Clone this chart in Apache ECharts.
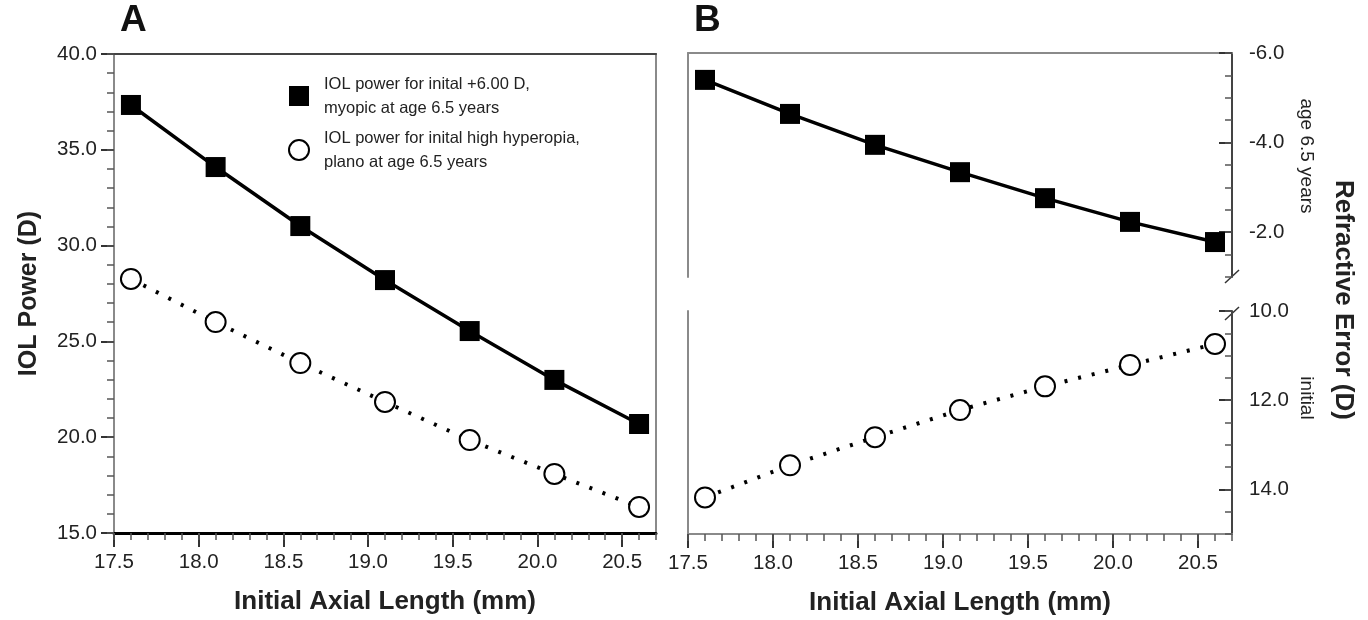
<!DOCTYPE html>
<html>
<head>
<meta charset="utf-8">
<script src="https://cdn.jsdelivr.net/npm/echarts@6/dist/echarts.min.js"></script>
<style>
html,body{margin:0;padding:0;background:#fff;}
#chart{width:1368px;height:620px;}
</style>
</head>
<body>
<div id="chart"></div>
<script>
// ---- data ----
const axialLength = [17.6, 18.1, 18.6, 19.1, 19.6, 20.1, 20.6];
const iolMyopic = [37.34, 34.10, 31.02, 28.20, 25.54, 22.99, 20.69];
const iolHyperopic = [28.26, 26.01, 23.87, 21.84, 19.85, 18.08, 16.36];
const refractionAge65 = [-5.40, -4.64, -3.95, -3.34, -2.76, -2.23, -1.78];
const refractionInitial = [14.18, 13.46, 12.83, 12.22, 11.69, 11.21, 10.74];
const xTickLabels = [17.5, 18.0, 18.5, 19.0, 19.5, 20.0, 20.5];
const yTicksA = [15, 20, 25, 30, 35, 40];
const yTicksBTop = [-6, -4, -2];
const yTicksBBottom = [10, 12, 14];
const seriesNames = [
  'IOL power for inital +6.00 D,\nmyopic at age 6.5 years',
  'IOL power for inital high hyperopia,\nplano at age 6.5 years'
];
const titles = {
  panelA: 'A', panelB: 'B',
  xName: 'Initial Axial Length (mm)',
  yNameA: 'IOL Power (D)',
  yNameB: 'Refractive Error (D)',
  subTop: 'age 6.5 years',
  subBottom: 'initial'
};

// ---- styles ----
const GRAY = '#8a8a8a';
const DARK = '#333';
const FONT = 'Liberation Sans, Arial, sans-serif';
const fmt = v => Number(v).toFixed(1);
const pair = (xs, ys) => xs.map((x, i) => [x, ys[i]]);

function lineOnly(base, color, width) {
  return Object.assign({
    type: 'value',
    axisLine: { show: true, onZero: false, lineStyle: { color: color, width: width } },
    axisTick: { show: false }, axisLabel: { show: false }, splitLine: { show: false }
  }, base);
}
function minorAxis(base, interval, len, inside) {
  return Object.assign({
    type: 'value', interval: interval,
    axisLine: { show: false, onZero: false },
    axisTick: { show: true, length: len, inside: !!inside, lineStyle: { color: '#555', width: 1.5 } },
    axisLabel: { show: false }, splitLine: { show: false }
  }, base);
}
function mainAxis(base, interval, ticks, len, inside, lineColor, lineWidth, margin) {
  return Object.assign({
    type: 'value', interval: interval,
    axisLine: { show: true, onZero: false, lineStyle: { color: lineColor, width: lineWidth } },
    axisTick: { show: true, length: len, inside: !!inside, customValues: ticks, lineStyle: { color: DARK, width: 2 } },
    axisLabel: { show: true, customValues: ticks, formatter: fmt, fontSize: 20.5, color: '#222', fontFamily: FONT, margin: margin },
    splitLine: { show: false }
  }, base);
}

const xNameStyle = { fontSize: 26, fontWeight: 'bold', color: '#222', fontFamily: FONT };
const yNameStyle = { fontSize: 25, fontWeight: 'bold', color: '#222', fontFamily: FONT };

const option = {
  backgroundColor: '#fff',
  animation: false,
  grid: [
    { left: 114, top: 54, width: 542, height: 479 },
    { left: 688, top: 53, width: 544, height: 224 },
    { left: 688, top: 311, width: 544, height: 223 }
  ],
  xAxis: [
    mainAxis({ gridIndex: 0, position: 'bottom', min: 17.5, max: 20.7,
      name: titles.xName, nameLocation: 'middle', nameGap: 56, nameTextStyle: xNameStyle },
      0.5, xTickLabels, 14, false, '#000', 3, 19),
    minorAxis({ gridIndex: 0, position: 'bottom', min: 17.5, max: 20.7 }, 0.1, 7),
    lineOnly({ gridIndex: 0, position: 'top', min: 17.5, max: 20.7 }, '#444', 2),
    lineOnly({ gridIndex: 1, position: 'top', min: 17.5, max: 20.7 }, GRAY, 2),
    mainAxis({ gridIndex: 2, position: 'bottom', min: 17.5, max: 20.7,
      name: titles.xName, nameLocation: 'middle', nameGap: 56, nameTextStyle: xNameStyle },
      0.5, xTickLabels, 14, false, GRAY, 2, 19),
    minorAxis({ gridIndex: 2, position: 'bottom', min: 17.5, max: 20.7 }, 0.1, 7)
  ],
  yAxis: [
    mainAxis({ gridIndex: 0, position: 'left', min: 15, max: 40,
      name: titles.yNameA, nameLocation: 'middle', nameGap: 72, nameRotate: 90, nameTextStyle: yNameStyle },
      5, yTicksA, 13, false, GRAY, 2, 17),
    minorAxis({ gridIndex: 0, position: 'left', min: 15, max: 40 }, 1, 7),
    lineOnly({ gridIndex: 0, position: 'right', min: 15, max: 40 }, GRAY, 2),
    lineOnly({ gridIndex: 1, position: 'left', min: -6, max: -1, inverse: true }, GRAY, 2),
    mainAxis({ gridIndex: 1, position: 'right', min: -6, max: -1, inverse: true }, 2, yTicksBTop, 13, true, '#444', 2, 17),
    minorAxis({ gridIndex: 1, position: 'right', min: -6, max: -1, inverse: true }, 0.5, 7, true),
    lineOnly({ gridIndex: 2, position: 'left', min: 10, max: 15, inverse: true }, GRAY, 2),
    mainAxis({ gridIndex: 2, position: 'right', min: 10, max: 15, inverse: true }, 2, yTicksBBottom, 13, true, '#444', 2, 17),
    minorAxis({ gridIndex: 2, position: 'right', min: 10, max: 15, inverse: true }, 0.5, 7, true)
  ],
  legend: {
    left: 283, top: 67, orient: 'vertical',
    itemWidth: 20, itemHeight: 20, itemGap: 6,
    textStyle: { fontSize: 16.5, color: '#222', fontFamily: FONT, lineHeight: 24, padding: [0, 0, 0, 10] },
    data: [
      { name: seriesNames[0], icon: 'rect', itemStyle: { color: '#000' } },
      { name: seriesNames[1], icon: 'circle', itemStyle: { color: '#fff', borderColor: '#000', borderWidth: 2 } }
    ]
  },
  series: [
    { type: 'line', name: seriesNames[0], xAxisIndex: 0, yAxisIndex: 0, data: pair(axialLength, iolMyopic),
      symbol: 'rect', symbolSize: 20, itemStyle: { color: '#000' }, lineStyle: { color: '#000', width: 3.5 }, z: 5 },
    { type: 'line', name: seriesNames[1], xAxisIndex: 0, yAxisIndex: 0, data: pair(axialLength, iolHyperopic),
      symbol: 'circle', symbolSize: 20, itemStyle: { color: '#fff', borderColor: '#000', borderWidth: 2 },
      lineStyle: { color: '#000', width: 4, type: [3, 11] }, z: 5 },
    { type: 'line', name: seriesNames[0], xAxisIndex: 3, yAxisIndex: 4, data: pair(axialLength, refractionAge65),
      symbol: 'rect', symbolSize: 20, itemStyle: { color: '#000' }, lineStyle: { color: '#000', width: 3.5 }, z: 5 },
    { type: 'line', name: seriesNames[1], xAxisIndex: 4, yAxisIndex: 7, data: pair(axialLength, refractionInitial),
      symbol: 'circle', symbolSize: 20, itemStyle: { color: '#fff', borderColor: '#000', borderWidth: 2 },
      lineStyle: { color: '#000', width: 4, type: [3, 11] }, z: 5 }
  ],
  graphic: [
    { type: 'text', left: 120, top: 2, style: { text: titles.panelA, fontSize: 37, fontWeight: 'bold', fill: '#111', fontFamily: FONT } },
    { type: 'text', left: 694, top: 2, style: { text: titles.panelB, fontSize: 37, fontWeight: 'bold', fill: '#111', fontFamily: FONT } },
    { type: 'text', x: 1343, y: 300, rotation: -Math.PI / 2,
      style: { text: titles.yNameB, fontSize: 26, fontWeight: 'bold', fill: '#222', fontFamily: FONT, textAlign: 'center', textVerticalAlign: 'middle' } },
    { type: 'text', x: 1306, y: 156, rotation: -Math.PI / 2,
      style: { text: titles.subTop, fontSize: 19, fill: '#222', fontFamily: FONT, textAlign: 'center', textVerticalAlign: 'middle' } },
    { type: 'text', x: 1306, y: 398, rotation: -Math.PI / 2,
      style: { text: titles.subBottom, fontSize: 19, fill: '#222', fontFamily: FONT, textAlign: 'center', textVerticalAlign: 'middle' } },
    { type: 'line', shape: { x1: 1225, y1: 283, x2: 1239, y2: 270 }, style: { stroke: '#333', lineWidth: 1.5 } },
    { type: 'line', shape: { x1: 1225, y1: 320, x2: 1239, y2: 307 }, style: { stroke: '#333', lineWidth: 1.5 } }
  ]
};

const chart = echarts.init(document.getElementById('chart'), null, { renderer: 'canvas' });
chart.setOption(option);
</script>
</body>
</html>
